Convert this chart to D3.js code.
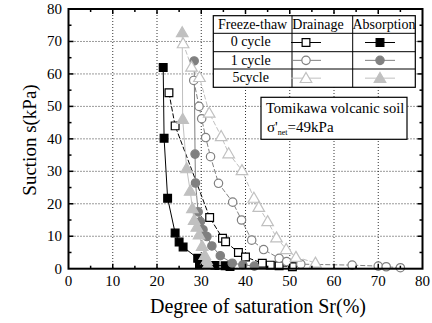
<!DOCTYPE html>
<html>
<head>
<meta charset="utf-8">
<script src="https://cdn.jsdelivr.net/npm/d3@7"></script>
<style>
  html, body { margin: 0; padding: 0; background: #fff; }
  svg { display: block; }
</style>
</head>
<body>
<svg id="chart" width="432" height="323" font-family="Liberation Serif, DejaVu Serif, Tinos, Noto Serif, FreeSerif, serif"></svg>
<script>
// Water retention curves: [degree of saturation Sr (%), suction s (kPa)]
const drain0 = [[22.7,54.2],[24.1,44],[31.9,15.8],[34.8,9.4],[35.5,8.3],[38.4,5],[40,3.6],[43.8,1.7],[45.6,1.1],[47.6,0.9],[50.6,0.6]];
const absorb0 = [[21.4,62],[21.6,40.2],[22.4,21.7],[24.1,11],[25,8.2],[25.9,6.7],[29.2,3.2],[29.6,1.2],[33.1,1],[35.4,0.9],[36.5,0.7]];
const drain1 = [[28.3,58],[29.5,50],[30.1,46.2],[31,40.4],[32.1,34.5],[33.9,26.3],[37.1,20.5],[39.1,15],[41.4,8.8],[44.1,5.9],[47.6,3.2],[49.3,2.2],[52.5,1.4],[64.1,1.1],[70,0.8],[71.8,0.6],[75,0.3]];
const absorb1 = [[28.4,64],[28.6,35.3],[28.7,26.4],[29.3,17.5],[29.8,14.5],[30.4,12],[31.3,9.9],[32.4,7],[34.3,4],[37,1.7],[39.4,1.2],[42,0.8]];
const drain5 = [[25.9,69.4],[27.8,62.2],[29.6,59],[31.8,48],[34.5,40.8],[36.2,35.5],[39.2,30.3],[41.9,21.8],[43,19],[45,14.6],[47,9.6],[49.2,6],[51.4,3.6],[55.8,1.8]];
const absorb5 = [[25.7,72.8],[25.8,46.1],[26.7,30.9],[27.5,24],[28,18.6],[28.4,15],[29,12.9],[29.5,10.5],[30.2,7],[30.8,4.2],[31.2,2.7],[31.5,1.3]];

const xTicks = [0,10,20,30,40,50,60,70,80];
const yTicks = [0,10,20,30,40,50,60,70,80];
const cycleLabels = ["0 cycle","1 cycle","5cycle"];
const headers = ["Freeze-thaw","Drainage","Absorption"];

const svg = d3.select("#chart");
const pLeft = 68.5, pRight = 422.5, pTop = 9, pBottom = 268.7;
const x = d3.scaleLinear().domain([0,80]).range([pLeft,pRight]);
const y = d3.scaleLinear().domain([0,80]).range([pBottom,pTop]);

// dotted grid
const grid = svg.append("g").attr("stroke","#000").attr("stroke-width",0.8).attr("stroke-dasharray","1,2");
xTicks.slice(1,-1).forEach(t => grid.append("line").attr("x1",x(t)).attr("x2",x(t)).attr("y1",pTop).attr("y2",pBottom));
yTicks.slice(1,-1).forEach(t => grid.append("line").attr("y1",y(t)).attr("y2",y(t)).attr("x1",pLeft).attr("x2",pRight));

// series definitions
const gray1 = "#808080", gray5 = "#c0c0c0";
const series = [
  {data: drain0, color:"#000", dash:"5,2", shape:"square", filled:false},
  {data: absorb0, color:"#000", dash:null, shape:"square", filled:true},
  {data: drain1, color:gray1, dash:"5,2", shape:"circle", filled:false},
  {data: absorb1, color:gray1, dash:null, shape:"circle", filled:true},
  {data: drain5, color:gray5, dash:"5,2", shape:"triangle", filled:false},
  {data: absorb5, color:gray5, dash:null, shape:"triangle", filled:true}
];
const symbolFor = s => s === "square" ? d3.symbolSquare : s === "circle" ? d3.symbolCircle : d3.symbolTriangle;
const sizeFor = s => s === "square" ? 60 : s === "circle" ? 55 : 58;

const line = d3.line().x(d => x(d[0])).y(d => y(d[1]));
series.forEach(s => {
  svg.append("path").attr("d", line(s.data)).attr("fill","none")
    .attr("stroke", s.color).attr("stroke-width",1)
    .attr("stroke-dasharray", s.dash);
});
series.forEach(s => {
  const sym = d3.symbol().type(symbolFor(s.shape)).size(sizeFor(s.shape));
  svg.append("g").selectAll("path").data(s.data).join("path")
    .attr("d", sym)
    .attr("transform", d => `translate(${x(d[0])},${y(d[1]) + (s.shape==="triangle"?1:0)})`)
    .attr("fill", s.filled ? s.color : "#fff")
    .attr("stroke", s.color).attr("stroke-width",1.2);
});

// axes with inward ticks on all four sides
const axisG = svg.append("g");
const minor = d3.range(5,80,10);
function ticks(vals, len, side) {
  vals.forEach(v => {
    if (side === "b") axisG.append("line").attr("x1",x(v)).attr("x2",x(v)).attr("y1",pBottom).attr("y2",pBottom-len);
    if (side === "t") axisG.append("line").attr("x1",x(v)).attr("x2",x(v)).attr("y1",pTop).attr("y2",pTop+len);
    if (side === "l") axisG.append("line").attr("y1",y(v)).attr("y2",y(v)).attr("x1",pLeft).attr("x2",pLeft+len);
    if (side === "r") axisG.append("line").attr("y1",y(v)).attr("y2",y(v)).attr("x1",pRight).attr("x2",pRight-len);
  });
}
["b","t","l","r"].forEach(s => { ticks(xTicks.slice(1,-1), 5, s); ticks(minor, 3, s); });
axisG.selectAll("line").attr("stroke","#000").attr("stroke-width",1.5);
svg.append("rect").attr("x",pLeft).attr("y",pTop).attr("width",pRight-pLeft).attr("height",pBottom-pTop)
  .attr("fill","none").attr("stroke","#000").attr("stroke-width",2);

// tick labels
svg.append("g").selectAll("text").data(xTicks).join("text")
  .attr("x", d => x(d)).attr("y", 286).attr("text-anchor","middle")
  .attr("font-size",15).text(d => d);
svg.append("g").selectAll("text").data(yTicks).join("text")
  .attr("x", 62).attr("y", d => y(d) + 5).attr("text-anchor","end")
  .attr("font-size",15).text(d => d);

// axis titles
svg.append("text").attr("x",258).attr("y",313).attr("text-anchor","middle")
  .attr("font-size",20).text("Degree of saturation Sr(%)");
svg.append("text").attr("transform","translate(36,140) rotate(-90)").attr("text-anchor","middle")
  .attr("font-size",19).text("Suction s(kPa)");

// legend table
const lg = svg.append("g");
const lx0 = 213.3, lx1 = 292, lx2 = 352.7, lx3 = 415.3;
const rowsY = [15.7, 33.3, 51.7, 69, 87.3];
lg.append("rect").attr("x",lx0).attr("y",rowsY[0]).attr("width",lx3-lx0).attr("height",rowsY[4]-rowsY[0])
  .attr("fill","#fff").attr("stroke","#000").attr("stroke-width",1.2);
rowsY.slice(1,-1).forEach(r => lg.append("line").attr("x1",lx0).attr("x2",lx3).attr("y1",r).attr("y2",r).attr("stroke","#000").attr("stroke-width",1));
[lx1,lx2].forEach(c => lg.append("line").attr("x1",c).attr("x2",c).attr("y1",rowsY[0]).attr("y2",rowsY[4]).attr("stroke","#000").attr("stroke-width",1));
const colCx = [(lx0+lx1)/2, 318, 384];
headers.forEach((h,i) => lg.append("text").attr("x",colCx[i]).attr("y",rowsY[0]+13).attr("text-anchor","middle").attr("font-size",14).text(h));
cycleLabels.forEach((c,i) => lg.append("text").attr("x",colCx[0]-2).attr("y",rowsY[i+1]+13).attr("text-anchor","middle").attr("font-size",14).text(c));
const markerCx = [306, 380];
series.forEach((s,i) => {
  const row = Math.floor(i/2), col = i%2;
  const cy = (rowsY[row+1] + rowsY[row+2]) / 2;
  const cx = markerCx[col];
  lg.append("line").attr("x1",cx-15).attr("x2",cx+15).attr("y1",cy).attr("y2",cy).attr("stroke",s.color).attr("stroke-width",1);
  lg.append("path").attr("d", d3.symbol().type(symbolFor(s.shape)).size(sizeFor(s.shape))())
    .attr("transform",`translate(${cx},${cy + (s.shape==="triangle"?1:0)})`)
    .attr("fill", s.filled ? s.color : "#fff").attr("stroke", s.color).attr("stroke-width",1.2);
});

// soil annotation
const ann = svg.append("g");
ann.append("rect").attr("x",261).attr("y",97.3).attr("width",146).attr("height",42)
  .attr("fill","#fff").attr("stroke","#000").attr("stroke-width",1.2);
ann.append("text").attr("x",266).attr("y",113).attr("font-size",14.5).text("Tomikawa volcanic soil");
const sig = ann.append("text").attr("x",267).attr("y",132).attr("font-size",15);
sig.append("tspan").text("σ'");
sig.append("tspan").attr("font-size",8).attr("dy",3).text("net");
sig.append("tspan").attr("dy",-3).text("=49kPa");
</script>
</body>
</html>
